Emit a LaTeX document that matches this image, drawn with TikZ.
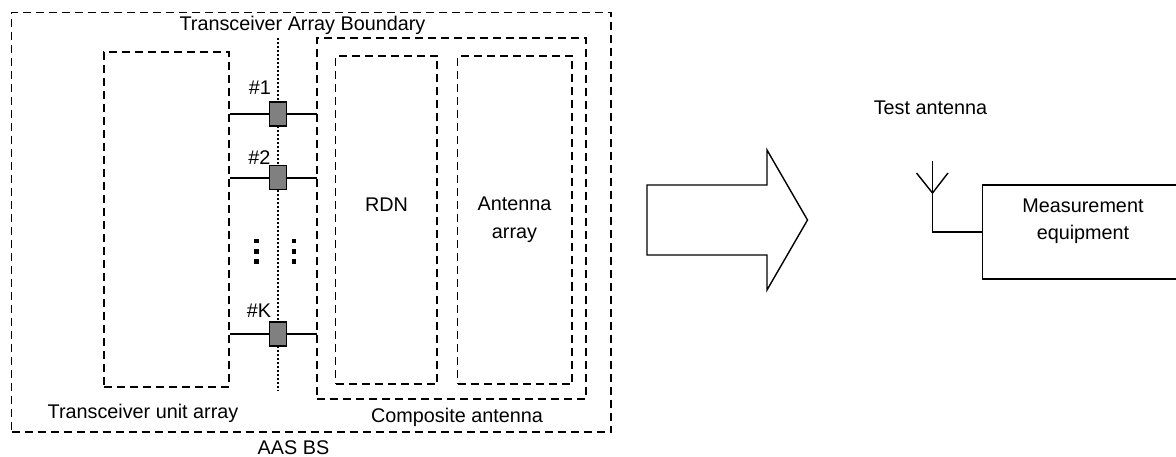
\documentclass[tikz,border=0pt]{standalone}
\usepackage{fontspec}
\setmainfont{Liberation Sans}
\begin{document}
\begin{tikzpicture}[x=1pt,y=-1pt,
  dbox/.style={draw=black,line width=1.4pt,dash pattern=on 8pt off 5pt,inner sep=0pt,outer sep=0pt,anchor=north west},
  wire/.style={draw=black,line width=1.4pt},
  port/.style={draw=black,fill=black!50,line width=1.8pt,minimum width=17pt,minimum height=24pt,inner sep=0pt,outer sep=0pt},
  pip/.style={fill=black,inner sep=0pt,minimum width=4.2pt,minimum height=4.2pt},
  lbl/.style={font=\fontsize{19.8pt}{27.5pt}\selectfont,inner sep=0pt,align=center,text=black}]
\useasboundingbox (0,0) rectangle (1176,457);
\node[dbox,minimum width=599.5pt,minimum height=419.5pt] (bs) at (11.5,12.5) {};
\node[dbox,minimum width=125pt,minimum height=335pt] (tu) at (104,52) {};
\node[dbox,minimum width=269pt,minimum height=361pt] (ca) at (317,38) {};
\node[dbox,minimum width=101.5pt,minimum height=328pt] (rdn) at (335.5,56) {};
\node[dbox,minimum width=114.5pt,minimum height=328pt] (ant) at (457.5,56) {};
\coordinate (dt) at (278,38);
\coordinate (db) at (278,391);
\draw[black,line width=1.8pt,dash pattern=on 2pt off 2pt] (dt) -- (db);
\node[port] (p1) at (278,114) {};
\node[port] (p2) at (278,177.5) {};
\node[port] (pk) at (278,334) {};
\coordinate (l1) at (230,114); \coordinate (r1) at (317,114);
\coordinate (l2) at (230,178); \coordinate (r2) at (317,178);
\coordinate (lk) at (230,334); \coordinate (rk) at (317,334);
\draw[wire] (l1) -- (p1.west) (p1.east) -- (r1);
\draw[wire] (l2) -- (l2-|p2.west) (r2-|p2.east) -- (r2);
\draw[wire] (lk) -- (pk.west) (pk.east) -- (rk);
\foreach \n/\x/\y in {a/256.5/241,b/256.5/251.5,c/256.5/261.5,d/294/241,e/294/251.5,f/294/261.5}
  \node[pip] (pip\n) at (\x,\y) {};
\node[lbl] (t1) at (260,88) {\#1};
\node[lbl] (t2) at (259.5,157.5) {\#2};
\node[lbl] (tk) at (259,311) {\#K};
\node[lbl] (tb) at (302.5,25.5) {Transceiver Array Boundary};
\node[lbl] (tr) at (386.5,205) {RDN};
\node[lbl] (ta) at (514.5,219.5) {Antenna\\array};
\node[lbl] (tt) at (143,413) {Transceiver unit array};
\node[lbl] (tc) at (457,417.5) {Composite antenna};
\node[lbl] (tbs) at (293.5,447.5) {AAS BS};
\node[lbl] (tant) at (930.5,108) {Test antenna};
\node[lbl] (tm) at (1083,221) {Measurement\\equipment};
\draw[black,line width=1.4pt,line join=miter] (647,185) -- (767,185) -- (767,150) -- (807.5,220) -- (767,290) -- (767,255) -- (647,255) -- cycle;
\coordinate (ma) at (982.5,232);
\coordinate (mt) at (1176,185);
\coordinate (mb) at (1176,279);
\coordinate (tip) at (932.5,161);
\coordinate (fork) at (932.5,193);
\coordinate (la) at (916.5,173);
\coordinate (ra) at (948,173);
\draw[wire] (mt) -- (982.5,185) -- (982.5,279) -- (mb);
\draw[wire] (ma) -- (932.5,232) -- (tip);
\draw[wire] (la) -- (fork) -- (ra);
\end{tikzpicture}
\end{document}
